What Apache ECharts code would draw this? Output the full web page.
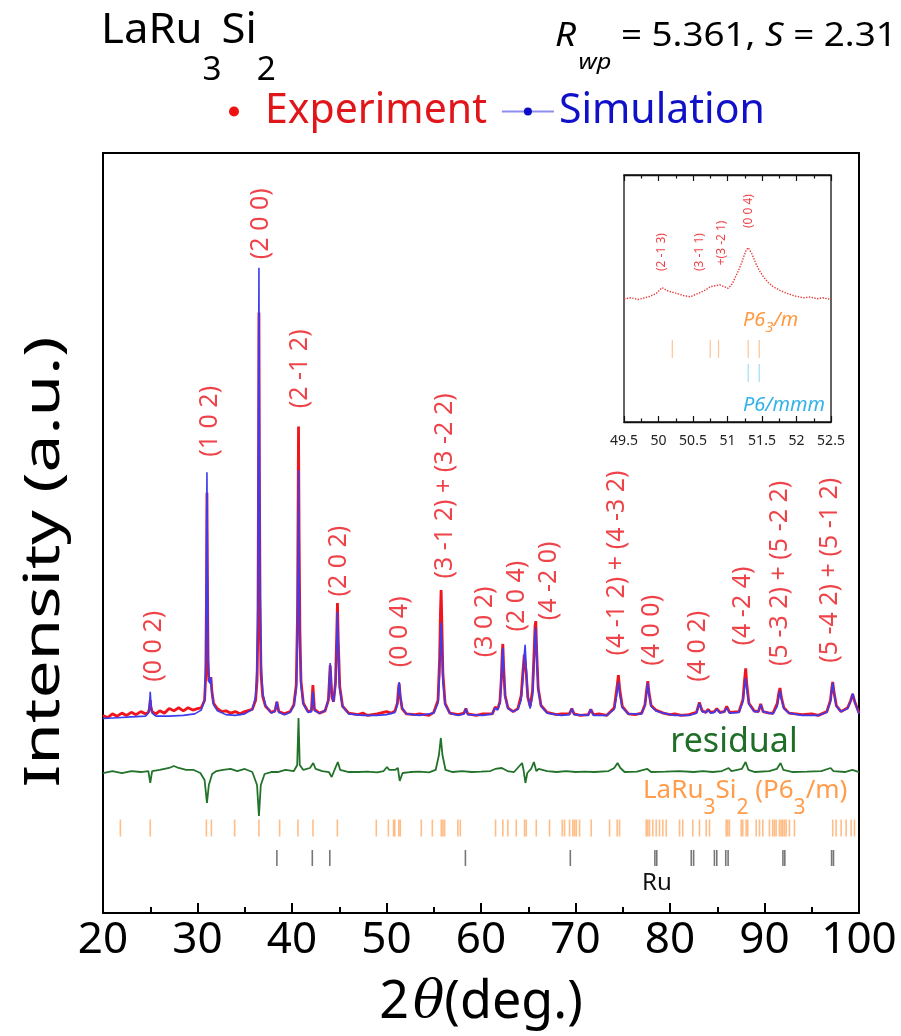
<!DOCTYPE html>
<html><head><meta charset="utf-8">
<script src="https://cdn.jsdelivr.net/npm/echarts@6/dist/echarts.min.js"></script>
<style>html,body{margin:0;padding:0;background:#fff}#c{width:901px;height:1036px}</style>
</head><body><div id="c"></div>
<script>
const FONT = '"Noto Sans", "Open Sans", sans-serif';

// ---------------- data (2θ in degrees, intensity in arbitrary plot units) ----------------
const simulation = [[20,25.6],[21.5,25.7],[23,25.8],[24.5,25.9],[24.8,26.3],[24.93,27.6],[25.0,29.1],[25.07,27.6],[25.2,26.3],[25.6,25.9],[27,25.9],[28.5,26.0],[29.7,26.2],[30.4,26.7],[30.75,28.0],[30.88,33],[30.95,46],[31.0,58.0],[31.05,46],[31.12,34],[31.2,30.5],[31.32,30.2],[31.42,31.0],[31.52,29.0],[31.7,27.4],[32.1,26.6],[33,26.1],[34,26.0],[35,26.2],[35.8,26.8],[36.15,28.5],[36.3,32.5],[36.4,42],[36.45,62],[36.5,84.9],[36.55,62],[36.62,44],[36.72,33],[36.9,29],[37.2,27.3],[37.8,26.3],[38.2,26.5],[38.4,27.8],[38.6,26.4],[39.2,26.1],[39.8,26.4],[40.2,27.3],[40.45,29.5],[40.58,36],[40.64,47],[40.69,58.3],[40.75,45],[40.84,35],[40.95,30],[41.2,27.5],[41.7,26.4],[42.05,26.5],[42.21,29.1],[42.38,26.6],[42.9,26.3],[43.5,26.6],[43.85,28.0],[44.04,32.9],[44.22,28.8],[44.4,27.8],[44.6,30.0],[44.73,35.5],[44.81,39.6],[44.9,35.0],[45.05,29.5],[45.35,27.2],[46,26.2],[47.5,26.0],[49,26.0],[50.0,26.1],[50.9,26.4],[51.15,27.4],[51.27,29.2],[51.34,30.4],[51.45,28.8],[51.65,27.0],[52.1,26.2],[53.5,26.0],[55.0,26.3],[55.45,27.6],[55.62,31.5],[55.71,36.0],[55.78,38.2],[55.86,35.0],[55.97,30.5],[56.2,27.4],[56.7,26.3],[57.6,26.0],[58.2,26.2],[58.4,26.9],[58.6,26.1],[60.2,26.0],[61.2,26.2],[61.5,27.0],[61.75,26.7],[62.0,27.6],[62.15,30.5],[62.24,33.5],[62.31,34.9],[62.4,32.0],[62.55,28.5],[62.85,26.9],[63.4,26.5],[63.9,26.8],[64.25,28.0],[64.45,31.0],[64.58,34.0],[64.67,35.3],[64.78,32.5],[64.95,28.6],[65.2,26.9],[65.45,28.5],[65.62,33.0],[65.72,36.5],[65.8,37.6],[65.9,34.0],[66.05,29.5],[66.35,27.2],[67,26.3],[68.5,26.0],[69.35,26.1],[69.61,26.9],[69.85,26.1],[71.35,26.0],[71.62,26.8],[71.9,26.0],[73.3,26.0],[74.1,26.8],[74.38,28.8],[74.54,30.4],[74.68,28.8],[74.95,27.0],[75.6,26.2],[77.0,26.2],[77.35,27.3],[77.52,29.0],[77.65,30.3],[77.78,28.8],[78.0,27.2],[78.5,26.6],[79.3,26.3],[80.5,26.0],[82.0,26.0],[82.8,26.3],[83.11,27.6],[83.4,26.5],[83.8,26.4],[84.03,26.7],[84.3,26.3],[84.7,26.4],[84.95,26.8],[85.3,26.3],[85.75,26.5],[86.0,27.0],[86.3,26.3],[87.3,26.4],[87.72,27.8],[87.9,29.8],[88.01,30.9],[88.12,29.6],[88.35,27.5],[88.9,26.5],[89.35,26.5],[89.6,27.4],[89.85,26.5],[90.9,26.2],[91.35,27.2],[91.52,28.5],[91.64,29.3],[91.78,28.2],[92.05,26.9],[92.6,26.3],[94,26.0],[95.7,26.0],[96.6,26.4],[96.98,27.8],[97.12,29.4],[97.22,30.3],[97.35,29.0],[97.6,27.2],[98.1,26.5],[98.8,26.9],[99.1,27.8],[99.33,28.9],[99.55,27.8],[100,26.2]];

const experiment = [[20,26.0],[20.5,25.7],[21,26.2],[21.5,25.9],[22,26.3],[22.5,26.0],[23,26.4],[23.5,26.1],[24,26.5],[24.5,26.2],[24.8,26.4],[24.93,27.0],[25.0,28.0],[25.07,27.0],[25.2,26.5],[25.6,26.2],[26,26.6],[26.5,26.3],[27,26.9],[27.5,26.6],[28,27.0],[28.5,26.6],[29,27.0],[29.5,26.7],[30,26.9],[30.4,27.0],[30.75,28.0],[30.88,31.5],[30.95,42],[31.0,55.3],[31.05,44],[31.12,33],[31.2,30.5],[31.32,30.3],[31.42,31.0],[31.52,29.2],[31.7,27.6],[32.1,26.9],[32.6,26.5],[33,26.6],[33.5,26.3],[34,26.5],[34.5,26.2],[35,26.5],[35.8,26.8],[36.15,28.0],[36.3,30.5],[36.4,38],[36.45,56],[36.5,79],[36.55,58],[36.62,41],[36.72,31.5],[36.9,28.5],[37.2,27.2],[37.8,26.4],[38.2,26.6],[38.4,27.8],[38.6,26.5],[39.2,26.2],[39.8,26.5],[40.2,27.4],[40.45,30],[40.58,39],[40.64,52],[40.69,64],[40.75,50],[40.84,37],[40.95,30.5],[41.2,27.6],[41.7,26.5],[42.05,26.6],[42.21,30.0],[42.38,26.8],[42.9,26.3],[43.5,26.6],[43.85,28.0],[44.04,32.6],[44.22,28.4],[44.4,27.8],[44.6,30.3],[44.73,36.5],[44.81,40.8],[44.9,35.8],[45.05,29.8],[45.35,27.2],[46,26.3],[47,26.1],[47.5,26.3],[48,26.0],[49,26.2],[50.0,26.5],[50.5,26.3],[50.9,26.6],[51.15,27.6],[51.27,29.6],[51.34,30.2],[51.45,28.5],[51.65,26.9],[52.1,26.2],[53,26.1],[53.5,26.2],[54.5,26.0],[55.0,26.4],[55.45,28.0],[55.62,33.5],[55.71,39.5],[55.78,42.5],[55.86,38.0],[55.97,31.5],[56.2,27.6],[56.7,26.3],[57.6,26.1],[58.2,26.3],[58.4,26.9],[58.6,26.2],[59.5,26.0],[60.2,26.2],[61.2,26.2],[61.5,27.1],[61.75,26.8],[62.0,27.8],[62.15,30.8],[62.24,34.0],[62.31,35.4],[62.4,32.3],[62.55,28.6],[62.85,27.0],[63.4,26.5],[63.9,26.9],[64.25,28.6],[64.45,32.0],[64.58,34.0],[64.67,34.2],[64.78,31.6],[64.95,28.4],[65.2,27.2],[65.45,29.2],[65.62,34.4],[65.72,37.8],[65.8,38.4],[65.9,34.2],[66.05,29.6],[66.35,27.3],[67,26.4],[68,26.1],[68.5,26.2],[69.35,26.2],[69.61,26.9],[69.85,26.2],[70.5,26.0],[71.35,26.1],[71.62,26.8],[71.9,26.1],[72.5,26.2],[73.3,26.0],[74.1,27.0],[74.38,29.6],[74.54,31.3],[74.68,29.4],[74.95,27.2],[75.6,26.2],[76.3,26.1],[77.0,26.3],[77.35,27.4],[77.52,29.3],[77.65,30.5],[77.78,29.0],[78.0,27.3],[78.5,26.7],[79.3,26.3],[80,26.1],[80.5,26.2],[81.2,26.0],[82.0,26.1],[82.8,26.4],[83.11,27.7],[83.4,26.6],[83.8,26.4],[84.03,26.8],[84.3,26.4],[84.7,26.5],[84.95,26.9],[85.3,26.4],[85.75,26.5],[86.0,27.2],[86.3,26.4],[87.3,26.5],[87.72,28.1],[87.9,30.8],[88.01,32.2],[88.12,30.2],[88.35,27.6],[88.9,26.6],[89.35,26.5],[89.6,27.5],[89.85,26.5],[90.5,26.3],[90.9,26.3],[91.35,27.6],[91.52,29.0],[91.64,29.6],[91.78,28.4],[92.05,27.0],[92.6,26.3],[93.3,26.2],[94,26.1],[95,26.2],[95.7,26.0],[96.6,26.5],[96.98,28.0],[97.12,29.6],[97.22,30.4],[97.35,29.1],[97.6,27.3],[98.1,26.5],[98.8,27.0],[99.1,27.9],[99.33,28.8],[99.55,27.8],[100,26.3]];

const residual = [[20,18.42],[21,18.68],[22,18.42],[23,18.68],[24,18.55],[24.8,18.68],[25.0,17.11],[25.2,18.68],[26,18.82],[27,19.08],[27.5,19.34],[28,19.08],[28.8,18.82],[29.6,18.82],[30.3,18.42],[30.75,17.5],[31.0,14.47],[31.2,16.84],[31.55,18.29],[32,18.68],[32.7,18.82],[33.5,18.95],[34.2,18.68],[35,18.95],[35.8,18.55],[36.3,16.84],[36.5,12.76],[36.7,16.84],[37.1,18.29],[37.8,18.55],[38.5,18.55],[39.3,18.82],[40.2,18.68],[40.55,19.47],[40.69,25.66],[40.82,19.47],[41.2,18.82],[41.9,19.08],[42.25,19.74],[42.5,18.95],[43.2,18.68],[43.9,18.55],[44.2,17.89],[44.5,18.82],[44.85,19.87],[45.1,18.82],[46,18.55],[47,18.55],[48,18.6],[49,18.5],[49.7,18.68],[50.05,19.21],[50.3,18.82],[50.9,18.82],[51.2,19.08],[51.4,17.37],[51.7,18.42],[52.5,18.55],[53.5,18.6],[54.5,18.5],[55.2,18.82],[55.55,20.79],[55.75,23.03],[55.92,20.79],[56.25,18.82],[57,18.55],[58,18.68],[59,18.55],[60,18.6],[61,18.68],[61.5,18.95],[62.2,19.08],[62.8,18.68],[63.5,18.55],[64.35,19.74],[64.5,18.82],[64.7,17.11],[64.9,18.42],[65.3,18.95],[65.6,19.87],[65.85,18.68],[66.1,18.95],[67,18.68],[68,18.55],[69,18.68],[70,18.55],[71,18.6],[72,18.55],[73.5,18.68],[74.1,19.08],[74.45,19.74],[74.75,19.08],[75.2,18.55],[76.5,18.6],[77.6,18.95],[78,18.55],[79.5,18.6],[81,18.68],[82.5,18.55],[83.5,18.68],[84.5,18.55],[85.5,18.68],[86.2,19.08],[86.5,18.68],[87.6,18.95],[88.0,19.87],[88.3,18.82],[89,18.55],[90.5,18.68],[91.3,18.95],[91.7,19.74],[92,18.82],[93,18.55],[94.5,18.6],[96,18.68],[97.0,19.08],[97.3,18.68],[98.5,18.55],[99.3,18.82],[100,18.55]];

// LaRu3Si2 (P6_3/m) reflection positions
const phaseTicks = [21.84,25.0,30.94,31.47,33.93,36.5,38.69,40.63,42.22,44.8,48.92,50.2,50.75,50.87,51.3,51.46,53.68,54.85,55.8,55.97,56.15,57.55,57.81,61.54,62.31,62.84,63.73,64.61,64.79,65.85,67.25,68.6,68.84,69.37,69.72,69.9,70.08,70.43,71.66,73.6,74.41,74.66,77.48,77.65,77.83,78.18,78.54,78.89,79.24,79.6,81.01,81.35,82.41,83.12,83.83,84.18,85.94,86.11,86.29,87.53,87.7,88.06,88.23,89.12,89.47,89.82,90.52,90.87,91.05,91.23,91.58,91.76,91.93,92.11,92.29,92.64,93.17,97.22,97.58,98.11,98.64,99.17,99.52];
// Ru reflection positions
const ruTicks = [38.4,42.15,44.0,58.35,69.45,78.4,78.6,82.25,82.5,84.7,84.95,85.9,86.15,91.95,92.15,97.1,97.3];

const hklNames = ['(0 0 2)','(1 0 2)','(2 0 0)','(2 -1 2)','(2 0 2)','(0 0 4)','(3 -1 2) + (3 -2 2)','(3 0 2)','(2 0 4)','(4 -2 0)','(4 -1 2) + (4 -3 2)','(4 0 0)','(4 0 2)','(4 -2 4)','(5 -3 2) + (5 -2 2)','(5 -4 2) + (5 -1 2)'];

// inset (49.5–52.5°)
const insetExperiment = [[49.5,49.8],[49.6,50.3],[49.7,49.6],[49.78,50.1],[49.88,50.9],[49.97,52.1],[50.05,54.4],[50.14,53.0],[50.26,52.1],[50.36,51.2],[50.46,50.7],[50.58,52.1],[50.68,53.4],[50.75,54.8],[50.89,55.5],[51.01,54.1],[51.07,56.0],[51.11,58.4],[51.17,62.0],[51.21,64.9],[51.27,69.6],[51.30,70.6],[51.35,68.3],[51.42,63.6],[51.47,61.0],[51.52,58.8],[51.59,56.5],[51.66,54.8],[51.76,53.3],[51.86,52.1],[51.98,51.0],[52.1,50.3],[52.2,50.6],[52.3,49.9],[52.38,50.3],[52.46,49.8],[52.5,49.9]];
const insetP63mTicks = [50.2,50.75,50.87,51.3,51.46];
const insetP6mmmTicks = [51.3,51.46];
const insetHklNames = ['(2 -1 3)','(3 -1 1)','+(3 -2 1)','(0 0 4)'];

// ---------------- option construction ----------------
const hklLabelAt = [[25.35,35.1],[31.35,64.7],[36.72,90.7],[40.87,71.6],[44.92,46.3],[51.37,37.0],[56.21,56.2],[60.44,38.3],[63.79,41.7],[67.13,43.7],[74.37,46.05],[78.07,37.2],[83.0,35.1],[87.76,40.4],[91.64,44.7],[96.93,45.1]];
const insetHklAt = [[50.05,68.8],[50.6,68.8],[50.92,72.5],[51.31,85.4]];
const PHASE_ROW = 11.18, RU_ROW = 7.24, INSET_ORANGE_ROW = 29.6, INSET_BLUE_ROW = 19.8;

const chart = echarts.init(document.getElementById('c'), null, {renderer: 'canvas'});

const tickAxisCommon = {
  axisLine: {show: true, lineStyle: {color: '#111', width: 1.3}},
  axisTick: {show: true, inside: true, length: 6, lineStyle: {color: '#111', width: 1.2}},
  minorTick: {show: true, splitNumber: 2, length: 3.5, lineStyle: {color: '#111', width: 1.2}},
  splitLine: {show: false}
};

const option = {
  animation: false,
  backgroundColor: '#fff',
  textStyle: {fontFamily: FONT},
  legend: {
    left: 224, top: 86, itemWidth: 52, itemHeight: 10, itemGap: 14,
    textStyle: {fontSize: 41, fontFamily: FONT},
    selectedMode: false,
    data: [
      {name: 'Experiment', icon: 'circle', textStyle: {color: '#e0161b', fontSize: 41}},
      {name: 'Simulation', textStyle: {color: '#1010c8', fontSize: 41}, lineStyle: {color: '#8e8ef0', width: 2}}
    ]
  },
  grid: [
    {left: 103, top: 153, width: 756, height: 760, show: true, borderColor: '#000', borderWidth: 2, outerBoundsMode: 'none', containLabel: false},
    {left: 624, top: 175, width: 207, height: 247, show: true, borderColor: '#111', borderWidth: 1.3, backgroundColor: '#fff', outerBoundsMode: 'none', containLabel: false}
  ],
  xAxis: [
    {
      type: 'value', gridIndex: 0, min: 20, max: 100, interval: 10,
      axisLine: {show: true, lineStyle: {color: '#000', width: 2}},
      axisTick: {show: true, inside: true, length: 10, lineStyle: {color: '#000', width: 2}},
      minorTick: {show: true, splitNumber: 2, length: 6, lineStyle: {color: '#000', width: 2}},
      splitLine: {show: false},
      axisLabel: {fontSize: 44, color: '#000', margin: 5, fontFamily: FONT},
      name: '{n|2}{t|θ}{n|(deg.)}',
      nameLocation: 'middle', nameGap: 64,
      nameTextStyle: {
        fontSize: 52, color: '#000',
        rich: {
          n: {fontSize: 52, fontFamily: FONT, color: '#000'},
          t: {fontSize: 52, fontFamily: '"DejaVu Serif", "Liberation Serif", serif', fontStyle: 'italic', color: '#000', padding: [0, 0, 0, 4]}
        }
      }
    },
    Object.assign({
      type: 'value', gridIndex: 1, min: 49.5, max: 52.5, interval: 0.5,
      axisLabel: {fontSize: 14, color: '#222', margin: 12, fontFamily: FONT}
    }, tickAxisCommon),
    Object.assign({
      type: 'value', gridIndex: 1, min: 49.5, max: 52.5, interval: 0.5, position: 'top',
      axisLabel: {show: false}
    }, tickAxisCommon)
  ],
  yAxis: [
    {type: 'value', gridIndex: 0, min: 0, max: 100, show: false},
    {type: 'value', gridIndex: 1, min: 0, max: 100, show: false}
  ],
  series: [
    {
      name: 'Experiment', type: 'line', xAxisIndex: 0, yAxisIndex: 0, data: experiment,
      symbol: 'circle', showSymbol: false, z: 2, silent: true,
      lineStyle: {color: '#f0141c', width: 2.8}, itemStyle: {color: '#ee1111'}
    },
    {
      name: 'Simulation', type: 'line', xAxisIndex: 0, yAxisIndex: 0, data: simulation,
      symbol: 'circle', symbolSize: 8, showSymbol: false, z: 3, silent: true,
      lineStyle: {color: '#3c3cf0', width: 1.6}, itemStyle: {color: '#0c0cc8'}
    },
    {
      name: 'Residual', type: 'line', xAxisIndex: 0, yAxisIndex: 0, data: residual,
      showSymbol: false, silent: true, z: 2,
      lineStyle: {color: '#22722a', width: 1.8}
    },
    {
      name: 'LaRu3Si2 ticks', type: 'scatter', xAxisIndex: 0, yAxisIndex: 0, silent: true,
      data: phaseTicks.map(x => [x, PHASE_ROW]), symbol: 'rect', symbolSize: [1.6, 17],
      itemStyle: {color: '#ffad6a'}
    },
    {
      name: 'Ru ticks', type: 'scatter', xAxisIndex: 0, yAxisIndex: 0, silent: true,
      data: ruTicks.map(x => [x, RU_ROW]), symbol: 'rect', symbolSize: [1.6, 16],
      itemStyle: {color: '#555555'}
    },
    {
      name: 'hkl', type: 'scatter', xAxisIndex: 0, yAxisIndex: 0, silent: true,
      data: hklNames.map((n, i) => ({name: n, value: hklLabelAt[i]})),
      symbolSize: 1, itemStyle: {color: 'rgba(0,0,0,0)'},
      label: {show: true, formatter: '{b}', rotate: 90, position: 'inside', color: '#e8141b', fontSize: 25, fontFamily: FONT}
    },
    {
      name: 'Inset experiment', type: 'line', xAxisIndex: 1, yAxisIndex: 1, data: insetExperiment,
      showSymbol: false, silent: true, z: 5,
      lineStyle: {color: '#e83a3a', width: 1.4, type: 'dotted'}
    },
    {
      name: 'Inset P63m', type: 'scatter', xAxisIndex: 1, yAxisIndex: 1, silent: true, z: 5,
      data: insetP63mTicks.map(x => [x, INSET_ORANGE_ROW]), symbol: 'rect', symbolSize: [1.2, 18],
      itemStyle: {color: '#ffb47e'}
    },
    {
      name: 'Inset P6mmm', type: 'scatter', xAxisIndex: 1, yAxisIndex: 1, silent: true, z: 5,
      data: insetP6mmmTicks.map(x => [x, INSET_BLUE_ROW]), symbol: 'rect', symbolSize: [1.2, 18],
      itemStyle: {color: '#86d4f6'}
    },
    {
      name: 'Inset hkl', type: 'scatter', xAxisIndex: 1, yAxisIndex: 1, silent: true, z: 5,
      data: insetHklNames.map((n, i) => ({name: n, value: insetHklAt[i]})),
      symbolSize: 1, itemStyle: {color: 'rgba(0,0,0,0)'},
      label: {show: true, formatter: '{b}', rotate: 90, position: 'inside', color: '#e8141b', fontSize: 12, fontFamily: FONT}
    }
  ],
  graphic: [
    {
      type: 'text', x: 101, y: 10, scaleX: 1.04, z: 10,
      style: {
        text: '{m|LaRu}{s|3}{m|Si}{s|2}', fill: '#000',
        rich: {
          m: {fontSize: 42, fontFamily: FONT, lineHeight: 46, verticalAlign: 'top', fill: '#000'},
          s: {fontSize: 32, fontFamily: FONT, lineHeight: 46, verticalAlign: 'top', padding: [45, 0, 0, 0], fill: '#000'}
        }
      }
    },
    {
      type: 'text', x: 555, y: 21, scaleX: 1.15, z: 10,
      style: {
        text: '{i|R}{w|wp}{m| = 5.361, }{i|S}{m| = 2.31}', fill: '#000',
        rich: {
          i: {fontSize: 32, fontFamily: FONT, fontStyle: 'italic', lineHeight: 34, verticalAlign: 'top', fill: '#000'},
          m: {fontSize: 32, fontFamily: FONT, lineHeight: 34, verticalAlign: 'top', fill: '#000'},
          w: {fontSize: 22, fontFamily: FONT, fontStyle: 'italic', lineHeight: 34, verticalAlign: 'top', padding: [31, 0, 0, 2], fill: '#000'}
        }
      }
    },
    {
      type: 'text', x: 45, y: 562, rotation: Math.PI / 2, scaleX: 1.35, z: 10,
      style: {text: 'Intensity (a.u.)', fontSize: 50, fontFamily: FONT, fill: '#000', align: 'center', verticalAlign: 'middle'}
    },
    {
      type: 'text', x: 734, y: 742, z: 10,
      style: {text: 'residual', fontSize: 34, fontFamily: FONT, fill: '#1f6e28', align: 'center', verticalAlign: 'middle'}
    },
    {
      type: 'text', x: 643, y: 778, z: 10,
      style: {
        text: '{m|LaRu}{s|3}{m|Si}{s|2}{m| (P6}{s|3}{m|/m)}',
        rich: {
          m: {fontSize: 26, fontFamily: FONT, lineHeight: 28, verticalAlign: 'top', fill: '#ff9d4d'},
          s: {fontSize: 21, fontFamily: FONT, lineHeight: 28, verticalAlign: 'top', padding: [20, 0, 0, 0], fill: '#ff9d4d'}
        }
      }
    },
    {
      type: 'text', x: 657, y: 883, z: 10,
      style: {text: 'Ru', fontSize: 24, fontFamily: FONT, fill: '#111', align: 'center', verticalAlign: 'middle'}
    },
    {
      type: 'text', x: 743, y: 310, z: 10,
      style: {
        text: '{m|P6}{s|3}{m|/m}',
        rich: {
          m: {fontSize: 20, fontFamily: FONT, fontStyle: 'italic', lineHeight: 22, verticalAlign: 'top', fill: '#ff9a40'},
          s: {fontSize: 15, fontFamily: FONT, fontStyle: 'italic', lineHeight: 22, verticalAlign: 'top', padding: [10, 0, 0, 0], fill: '#ff9a40'}
        }
      }
    },
    {
      type: 'text', x: 743, y: 405, z: 10,
      style: {text: 'P6/mmm', fontSize: 20, fontFamily: FONT, fontStyle: 'italic', fill: '#33b2ea', align: 'left', verticalAlign: 'middle'}
    }
  ]
};
chart.setOption(option);
</script>
</body></html>
